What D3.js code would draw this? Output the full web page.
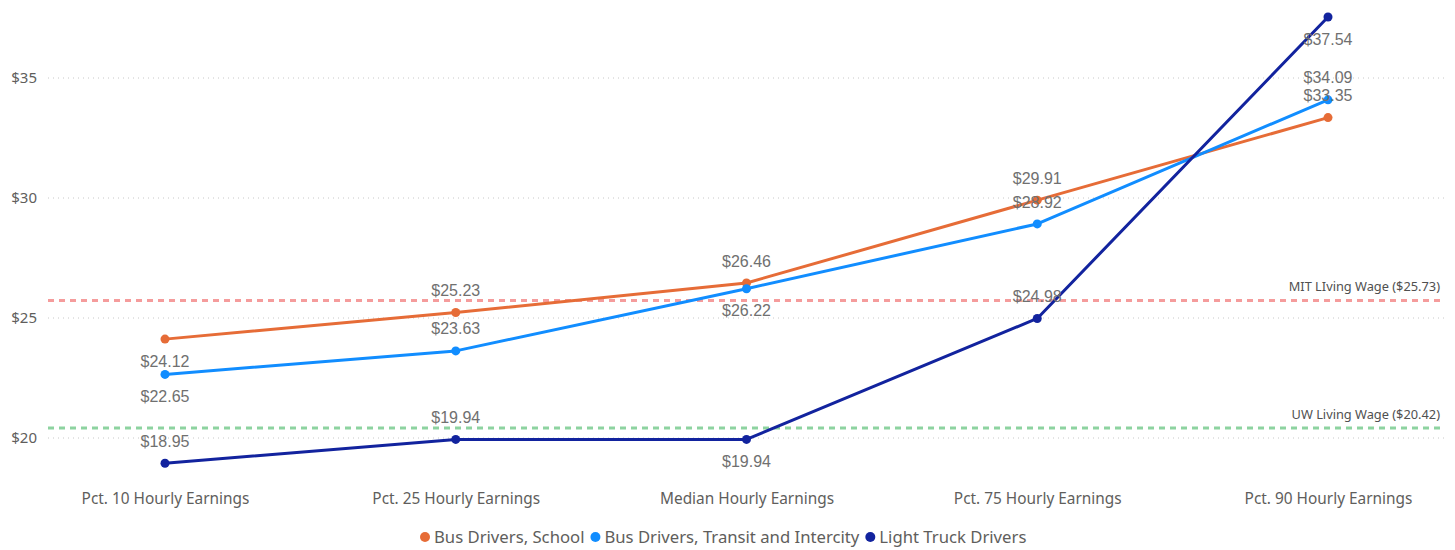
<!DOCTYPE html>
<html><head><meta charset="utf-8">
<script src="https://cdn.jsdelivr.net/npm/d3@7"></script>
<style>body{margin:0;background:#fff;} svg{display:block;}</style>
</head><body>
<svg id="chart" width="1455" height="550"></svg>
<script>
const categories = ["Pct. 10 Hourly Earnings","Pct. 25 Hourly Earnings","Median Hourly Earnings","Pct. 75 Hourly Earnings","Pct. 90 Hourly Earnings"];
const seriesNames = ["Bus Drivers, School","Bus Drivers, Transit and Intercity","Light Truck Drivers"];
const busSchool = [24.12, 25.23, 26.46, 29.91, 33.35];
const busTransit = [22.65, 23.63, 26.22, 28.92, 34.09];
const lightTruck = [18.95, 19.94, 19.94, 24.98, 37.54];
const yTicks = [20, 25, 30, 35];
const refNames = ["MIT LIving Wage ($25.73)", "UW Living Wage ($20.42)"];
const refValues = [25.73, 20.42];

const colors = ["#E66C37", "#118DFF", "#12239E"];
const refColors = ["#F59C9C", "#8DD3A0"];
// label placement per series per category: 1 = below, -1 = above
const labelSide = [
  [1, -1, -1, -1, -1],
  [1, -1, 1, -1, -1],
  [-1, -1, 1, -1, 1]
];

const svg = d3.select("#chart");
const x = d3.scalePoint().domain(categories).range([165, 1328]);
const y = d3.scaleLinear().domain([20, 35]).range([438, 78]);
const gridX0 = 48, gridX1 = 1445;

// gridlines
svg.append("g").selectAll("line").data(yTicks).join("line")
  .attr("x1", gridX0).attr("x2", gridX1)
  .attr("y1", d => y(d)).attr("y2", d => y(d))
  .attr("stroke", "#C8C8C8").attr("stroke-width", 1).attr("stroke-dasharray", "1,4");

// y axis
const yAxis = d3.axisLeft(y).tickValues(yTicks).tickFormat(d => "$" + d).tickSize(0).tickPadding(0);
const ga = svg.append("g").attr("transform", "translate(37,0)").call(yAxis);
ga.select(".domain").remove();
ga.selectAll("text").attr("fill", "#605E5C").style("font-family", "'Segoe UI','Noto Sans',sans-serif").style("font-size", "15px");

// x axis
const xAxis = d3.axisBottom(x).tickSize(0).tickPadding(0);
const gx = svg.append("g").attr("transform", "translate(0,493)").call(xAxis);
gx.select(".domain").remove();
gx.selectAll("text").attr("fill", "#605E5C").style("font-family", "'Segoe UI','Noto Sans',sans-serif").style("font-size", "15.4px");

// reference lines
refValues.forEach((v, i) => {
  svg.append("line").attr("x1", gridX0).attr("x2", gridX1).attr("y1", y(v)).attr("y2", y(v))
    .attr("stroke", refColors[i]).attr("stroke-width", 3).attr("stroke-dasharray", "6,5");
  svg.append("text").attr("x", 1440).attr("y", y(v) - 9).attr("text-anchor", "end")
    .attr("fill", "#505050").style("font-family", "'Segoe UI','Noto Sans',sans-serif").style("font-size", "12.8px")
    .text(refNames[i]);
});

const allSeries = [busSchool, busTransit, lightTruck];
const line = d3.line().x((d, i) => x(categories[i])).y(d => y(d));
allSeries.forEach((s, si) => {
  svg.append("path").datum(s).attr("d", line).attr("fill", "none")
    .attr("stroke", colors[si]).attr("stroke-width", 3).attr("stroke-linejoin", "round");
  svg.append("g").selectAll("circle").data(s).join("circle")
    .attr("cx", (d, i) => x(categories[i])).attr("cy", d => y(d)).attr("r", 4.5).attr("fill", colors[si]);
});
allSeries.forEach((s, si) => {
  svg.append("g").selectAll("text").data(s).join("text")
    .attr("x", (d, i) => x(categories[i])).attr("y", (d, i) => y(d) + labelSide[si][i] * 22)
    .attr("dy", "0.35em").attr("text-anchor", "middle")
    .attr("fill", "#707070").style("font-family", "'Liberation Sans',Arial,sans-serif").style("font-size", "16px")
    .text(d => "$" + d.toFixed(2));
});

// legend
const legend = svg.append("g");
let lx = 420;
seriesNames.forEach((n, i) => {
  legend.append("circle").attr("cx", lx + 5).attr("cy", 537).attr("r", 5).attr("fill", colors[i]);
  const t = legend.append("text").attr("x", lx + 14).attr("y", 537).attr("dy", "0.35em")
    .attr("fill", "#605E5C").style("font-family", "'Segoe UI','Noto Sans',sans-serif").style("font-size", "16.7px").text(n);
  lx += 14 + t.node().getComputedTextLength() + 6;
});
</script>
</body></html>
